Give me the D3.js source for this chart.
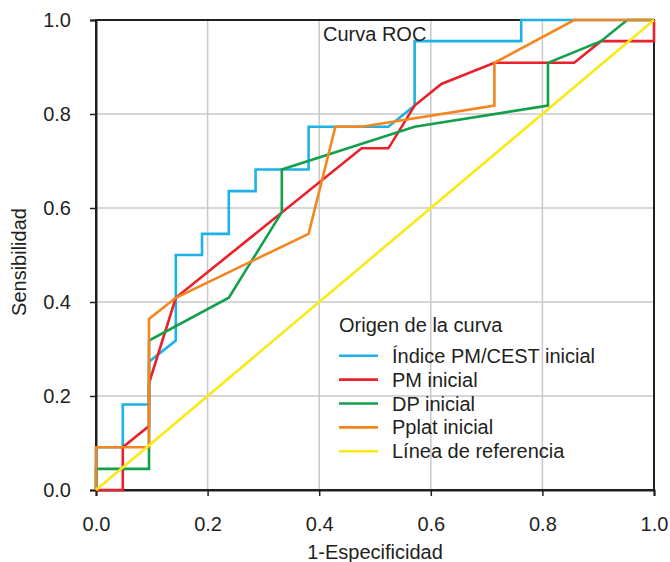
<!DOCTYPE html>
<html><head><meta charset="utf-8">
<script src="https://cdn.jsdelivr.net/npm/d3@7"></script>
<style>
html,body{margin:0;padding:0;background:#fff;}
text{font-family:"Liberation Sans",Arial,sans-serif;fill:#231f20;}
</style></head>
<body><svg id="c" width="670" height="562"></svg>
<script>
const seriesNames = ["Índice PM/CEST inicial","PM inicial","DP inicial","Pplat inicial","Línea de referencia"];
const seriesColors = ["#1cb1e7","#e8212b","#13a04b","#f5861f","#fbe817"];
const blueX = [0,0,0.048,0.048,0.095,0.095,0.143,0.143,0.190,0.190,0.238,0.238,0.286,0.286,0.381,0.381,0.524,0.571,0.571,0.762,0.762,1];
const blueY = [0,0.091,0.091,0.182,0.182,0.273,0.318,0.5,0.5,0.545,0.545,0.636,0.636,0.682,0.682,0.773,0.773,0.818,0.955,0.955,1,1];
const redX = [0,0.048,0.048,0.095,0.095,0.143,0.476,0.524,0.571,0.619,0.714,0.857,0.905,1,1];
const redY = [0,0,0.091,0.136,0.227,0.409,0.727,0.727,0.818,0.864,0.909,0.909,0.955,0.955,1];
const greenX = [0,0,0.095,0.095,0.238,0.333,0.333,0.571,0.810,0.810,0.905,0.952,1];
const greenY = [0,0.045,0.045,0.318,0.409,0.591,0.682,0.773,0.818,0.909,0.955,1,1];
const orangeX = [0,0,0.095,0.095,0.143,0.381,0.429,0.476,0.714,0.714,0.857,1];
const orangeY = [0,0.091,0.091,0.364,0.409,0.545,0.773,0.773,0.818,0.909,1,1];
const refX = [0,1];
const refY = [0,1];
const tickValues = [0,0.2,0.4,0.6,0.8,1.0];
const title = "Curva ROC";
const xLabel = "1-Especificidad";
const yLabel = "Sensibilidad";
const legendTitle = "Origen de la curva";

const svg = d3.select("#c");
const L=96,R=654,T=20,B=490;
const FS=20;
const x = d3.scaleLinear().domain([0,1]).range([L,R]);
const y = d3.scaleLinear().domain([0,1]).range([B,T]);

// grid
const g = svg.append("g");
g.selectAll(".gx").data(tickValues.slice(1,5)).join("line")
 .attr("x1",d=>x(d)).attr("x2",d=>x(d)).attr("y1",T).attr("y2",B)
 .attr("stroke","#c9c9c9").attr("stroke-width",1.5);
g.selectAll(".gy").data(tickValues.slice(1,5)).join("line")
 .attr("y1",d=>y(d)).attr("y2",d=>y(d)).attr("x1",L).attr("x2",R)
 .attr("stroke","#c9c9c9").attr("stroke-width",1.5);

// frame
svg.append("rect").attr("x",L).attr("y",T).attr("width",R-L).attr("height",B-T)
 .attr("fill","none").attr("stroke","#231f20").attr("stroke-width",2);

// axes
const xa = svg.append("g").attr("transform",`translate(0,${B})`)
 .call(d3.axisBottom(x).tickValues(tickValues).tickFormat(d3.format(".1f")).tickSize(6).tickPadding(21));
const ya = svg.append("g").attr("transform",`translate(${L},0)`)
 .call(d3.axisLeft(y).tickValues(tickValues).tickFormat(d3.format(".1f")).tickSize(6).tickPadding(19));
[xa,ya].forEach(a=>{
  a.select(".domain").attr("stroke","#231f20").attr("stroke-width",2);
  a.selectAll(".tick line").attr("stroke","#231f20").attr("stroke-width",1.5);
  a.selectAll(".tick text").attr("font-size",FS).attr("fill","#231f20").style("font-family","'Liberation Sans',Arial,sans-serif");
});

// curves
const allX=[blueX,redX,greenX,orangeX,refX];
const allY=[blueY,redY,greenY,orangeY,refY];
const line = d3.line().x(d=>x(d[0])).y(d=>y(d[1]));
allX.forEach((xs,i)=>{
  const pts = xs.map((v,j)=>[v,allY[i][j]]);
  svg.append("path").attr("d",line(pts)).attr("fill","none")
   .attr("stroke",seriesColors[i]).attr("stroke-width",2.6).attr("stroke-linejoin","miter");
});

// title
svg.append("text").attr("x",323).attr("y",41).attr("font-size",FS).text(title);
// axis labels
svg.append("text").attr("x",x(0.5)).attr("y",559).attr("text-anchor","middle").attr("font-size",FS).text(xLabel);
svg.append("text").attr("transform","translate(26,262) rotate(-90)").attr("text-anchor","middle").attr("font-size",FS).text(yLabel);

// legend
const lg = svg.append("g");
lg.append("text").attr("x",339).attr("y",332).attr("font-size",FS).text(legendTitle);
seriesNames.forEach((n,i)=>{
  const yy = 355.7 + i*23.9;
  lg.append("line").attr("x1",339).attr("x2",378).attr("y1",yy).attr("y2",yy)
   .attr("stroke",seriesColors[i]).attr("stroke-width",2.6);
  lg.append("text").attr("x",392).attr("y",yy+7).attr("font-size",FS).text(n);
});
</script></body></html>
